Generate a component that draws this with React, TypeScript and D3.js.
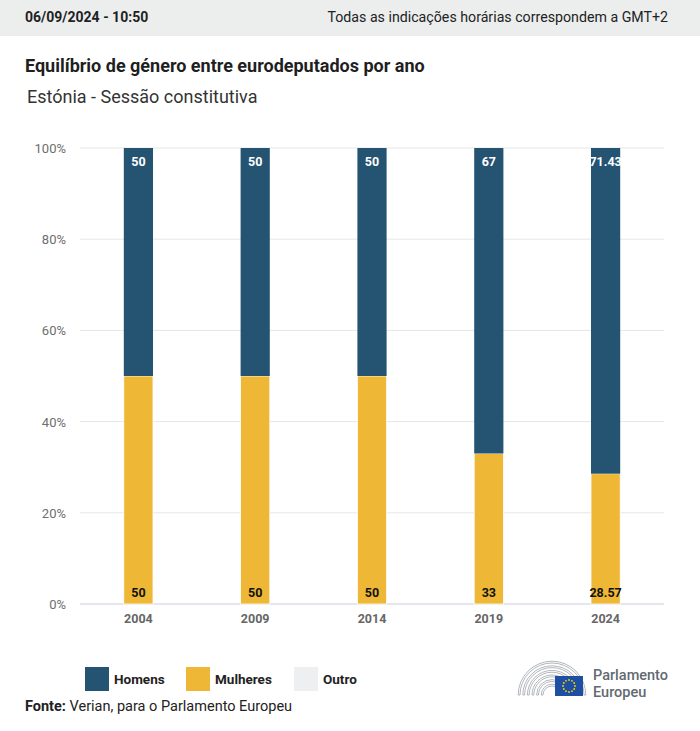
import React from 'react';
import * as d3 from 'd3';

const years = ['2004', '2009', '2014', '2019', '2024'];
const homens = [50, 50, 50, 67, 71.43];
const mulheres = [50, 50, 50, 33, 28.57];
const outro = [0, 0, 0, 0, 0];
const yTicks = [0, 20, 40, 60, 80, 100];
const legendItems = ['Homens', 'Mulheres', 'Outro'];

const W = 700;
const H = 731;
const colors: Record<string, string> = { Homens: '#255472', Mulheres: '#eeb735', Outro: '#eeeff1' };
const font = 'Roboto, "Noto Sans", sans-serif';

export default function App() {
  const margin = { left: 80, right: 36, top: 148, bottom: 127 };
  const x = d3.scaleBand().domain(years).range([margin.left, W - margin.right]).paddingInner(0.75).paddingOuter(0.375);
  const y = d3.scaleLinear().domain([0, 100]).range([H - margin.bottom, margin.top]);

  const rows = years.map((yr, i) => ({ year: yr, Mulheres: mulheres[i], Homens: homens[i], Outro: outro[i] }));
  const stack = d3.stack<any>().keys(['Mulheres', 'Homens', 'Outro'])(rows);

  const fmt = (v: number) => (Number.isInteger(v) ? String(v) : v.toFixed(2));

  // parliament hemicycle arcs for logo
  const arcs = d3.range(6).map(i => {
    const r = 9 + i * 4.6;
    return d3.arc()({ innerRadius: r, outerRadius: r + 1.8, startAngle: -Math.PI / 2, endAngle: Math.PI / 2 }) as string;
  });

  return (
    <svg width={W} height={H} style={{ position: 'absolute', left: 0, top: 0, display: 'block' }} fontFamily={font}>
      <rect x={0} y={0} width={W} height={H} fill="#ffffff" />
      <rect x={0} y={0} width={W} height={36} fill="#eceeee" />
      <text x={25} y={22} fontSize={14} fontWeight={700} fill="#1f1f1f">06/09/2024 - 10:50</text>
      <text x={668} y={22} fontSize={14.2} fill="#222" textAnchor="end">Todas as indicações horárias correspondem a GMT+2</text>

      <text x={25} y={72} fontSize={18} fontWeight={700} fill="#1f1f1f">Equilíbrio de género entre eurodeputados por ano</text>
      <text x={27} y={103} fontSize={18} fill="#333">Estónia - Sessão constitutiva</text>

      {yTicks.map(t => (
        <g key={t}>
          <line x1={margin.left} x2={W - margin.right} y1={y(t)} y2={y(t)} stroke={t === 0 ? '#c9d0dc' : '#e6e6e6'} strokeWidth={1} />
          <text x={66} y={y(t) + 5} fontSize={13} fill="#6e6e6e" textAnchor="end">{t}%</text>
        </g>
      ))}

      {stack.map(s => (
        <g key={s.key}>
          {s.map((d, i) => (
            <rect key={i} x={x(years[i])} width={x.bandwidth()} y={y(d[1])} height={Math.max(0, y(d[0]) - y(d[1]))} fill={colors[s.key]} stroke="#fff" strokeWidth={s.key === 'Mulheres' ? 0.8 : 0} />
          ))}
        </g>
      ))}

      {years.map((yr, i) => (
        <g key={yr}>
          <text x={x(yr)! + x.bandwidth() / 2} y={y(100) + 18} fontSize={12.5} fontWeight={700} fill="#fff" textAnchor="middle">{fmt(homens[i])}</text>
          <text x={x(yr)! + x.bandwidth() / 2} y={y(0) - 7} fontSize={12.5} fontWeight={700} fill="#111" textAnchor="middle">{fmt(mulheres[i])}</text>
          <text x={x(yr)! + x.bandwidth() / 2} y={y(0) + 19} fontSize={12.5} fontWeight={700} fill="#666" textAnchor="middle">{yr}</text>
        </g>
      ))}

      {legendItems.map((k, i) => {
        const lx = [85, 186, 294][i];
        return (
          <g key={k}>
            <rect x={lx} y={667} width={24} height={24} fill={colors[k]} />
            <text x={lx + 29} y={684} fontSize={13.5} fontWeight={700} fill="#222">{k}</text>
          </g>
        );
      })}

      <text x={25} y={711} fontSize={14.5} fill="#222">
        <tspan fontWeight={700}>Fonte:</tspan> Verian, para o Parlamento Europeu
      </text>

      <g transform="translate(552,695)">
        {arcs.map((a, i) => <path key={i} d={a} fill="none" stroke="#a0a5aa" strokeWidth={0.8} />)}
      </g>
      <rect x={555} y={676} width={28} height={20} fill="#1f4fa3" />
      {d3.range(12).map(i => {
        const a = (i / 12) * Math.PI * 2;
        return <circle key={i} cx={569 + Math.cos(a) * 6} cy={686 + Math.sin(a) * 6} r={0.9} fill="#f5d400" />;
      })}
      <text x={593} y={680} fontSize={14.5} fontWeight={500} fill="#626a72">Parlamento</text>
      <text x={593} y={697} fontSize={14.5} fontWeight={500} fill="#626a72">Europeu</text>
    </svg>
  );
}
